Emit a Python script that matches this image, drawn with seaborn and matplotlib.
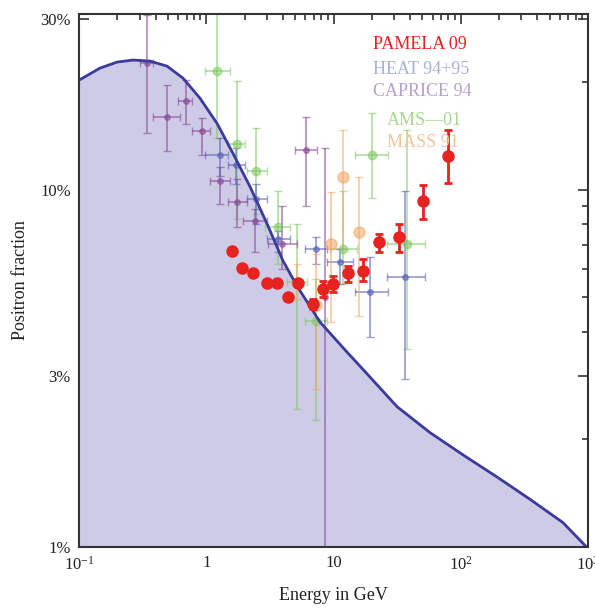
import numpy as np
import matplotlib
matplotlib.use('Agg')
import matplotlib.pyplot as plt
import matplotlib.ticker as mticker
import seaborn as sns

sns.set_style('ticks')
plt.rcParams['font.family'] = ['Liberation Serif', 'DejaVu Serif']
plt.rcParams['mathtext.fontset'] = 'stix'

# Model curve (background prediction)
curve_E = [0.1, 0.146, 0.199, 0.266, 0.361, 0.492, 0.657, 0.893, 1.215, 1.623,
           2.207, 3.0, 4.01, 5.17, 7.83, 12.77, 17.05, 31.55, 57.3, 104.2,
           192.7, 350, 636, 1000]
curve_f = [0.2024, 0.2187, 0.2274, 0.2304, 0.2289, 0.2215, 0.2050, 0.1801,
           0.1532, 0.1262, 0.1019, 0.0803, 0.0632, 0.0537, 0.0426, 0.0351,
           0.0314, 0.0247, 0.0209, 0.0181, 0.0157, 0.0136, 0.0117, 0.0099]

# PAMELA 09
pamela_E = [1.59, 1.91, 2.33, 3.0, 3.6, 4.39, 5.26, 6.9, 8.27, 9.9, 13.0, 17.1,
            22.8, 32.7, 50.5, 79.4]
pamela_f = [0.0674, 0.0604, 0.0585, 0.0548, 0.0548, 0.0500, 0.0548, 0.0478,
            0.0527, 0.0545, 0.0585, 0.0592, 0.0714, 0.0738, 0.0931, 0.1238]
pamela_lo = [0.0664, 0.0595, 0.0576, 0.0540, 0.0539, 0.0491, 0.0537, 0.0462,
             0.0501, 0.0517, 0.0551, 0.0555, 0.0670, 0.0670, 0.0829, 0.1046]
pamela_hi = [0.0684, 0.0613, 0.0594, 0.0556, 0.0557, 0.0509, 0.0559, 0.0494,
             0.0555, 0.0573, 0.0612, 0.0640, 0.0752, 0.0803, 0.1033, 0.1464]

# HEAT 94+95
heat_E = [1.28, 1.71, 2.46, 3.66, 7.28, 11.2, 19.4, 36.5]
heat_Elo = [0.98, 1.48, 2.09, 3.0, 5.97, 8.89, 14.7, 26.3]
heat_Ehi = [1.48, 2.02, 3.0, 4.55, 8.89, 14.2, 26.8, 52.4]
heat_f = [0.1246, 0.1175, 0.0943, 0.0729, 0.0683, 0.0628, 0.0517, 0.0570]
heat_lo = [0.1095, 0.1039, 0.0803, 0.0670, 0.0620, 0.0545, 0.0386, 0.0295]
heat_hi = [0.139, 0.1304, 0.1039, 0.0767, 0.0738, 0.0683, 0.0648, 0.0994]

# CAPRICE 94
cap_E = [0.342, 0.492, 0.693, 0.926, 1.28, 1.74, 2.42, 3.94, 6.06, 8.57]
cap_Elo = [0.301, 0.382, 0.60, 0.77, 1.07, 1.48, 1.94, 3.05, 4.98, 8.57]
cap_Ehi = [0.382, 0.622, 0.77, 1.07, 1.53, 2.09, 3.0, 5.18, 7.4, 8.57]
cap_f = [0.226, 0.160, 0.177, 0.1455, 0.106, 0.0925, 0.0818, 0.0705, 0.1287, 0.050]
cap_lo = [0.1436, 0.128, 0.153, 0.1246, 0.0913, 0.0787, 0.067, 0.060, 0.0902, 0.005]
cap_hi = [0.308, 0.196, 0.202, 0.1583, 0.116, 0.1074, 0.0884, 0.0902, 0.160, 0.1304]

# AMS-01
ams_E = [1.215, 1.74, 2.46, 3.66, 5.18, 7.28, 11.9, 20.1, 37.8]
ams_Elo = [0.977, 1.48, 2.09, 2.89, 4.3, 5.97, 9.38, 14.7, 26.3]
ams_Ehi = [1.54, 2.02, 3.0, 4.55, 6.2, 8.89, 15.3, 26.8, 52.4]
ams_f = [0.2145, 0.1338, 0.113, 0.0787, 0.0551, 0.0429, 0.0683, 0.1246, 0.0705]
ams_lo = [0.139, 0.0829, 0.0856, 0.062, 0.0243, 0.0227, 0.0545, 0.095, 0.0357]
ams_hi = [0.40, 0.201, 0.1483, 0.0994, 0.0803, 0.0563, 0.0994, 0.1635, 0.1465]

# MASS 91
mass_E = [5.18, 7.28, 9.55, 11.9, 15.9]
mass_f = [0.0548, 0.0475, 0.0705, 0.1088, 0.0762]
mass_lo = [0.0494, 0.0276, 0.0426, 0.0683, 0.0443]
mass_hi = [0.062, 0.0661, 0.0987, 0.1464, 0.1088]

LEGEND = ['PAMELA 09', 'HEAT 94+95', 'CAPRICE 94', 'AMS\u201401', 'MASS 91']
LEGEND_COLORS = ['#e8221e', '#a9b0dc', '#b9a0cc', '#a8d890', '#f6c49a']


def yerr(f, lo, hi):
    f, lo, hi = map(np.asarray, (f, lo, hi))
    return [f - lo, hi - f]


fig = plt.figure(figsize=(5.95, 6.14), dpi=100)
ax = fig.add_axes([0.1328, 0.1091, 0.8555, 0.8681])

ax.fill_between(curve_E, curve_f, 0.001, color='#cdcbe6', lw=0, zorder=1)
sns.lineplot(x=curve_E, y=curve_f, ax=ax, color='#3b3b9c', lw=2, zorder=3,
             estimator=None, sort=True)

ax.errorbar(ams_E, ams_f, yerr=yerr(ams_f, ams_lo, ams_hi),
            xerr=yerr(ams_E, ams_Elo, ams_Ehi), fmt='o', ms=6,
            color='#7cc860', alpha=0.55, capsize=3, lw=1.3, zorder=2)
ax.errorbar(cap_E, cap_f, yerr=yerr(cap_f, cap_lo, cap_hi),
            xerr=yerr(cap_E, cap_Elo, cap_Ehi), fmt='o', ms=4,
            color='#8b4a96', alpha=0.6, capsize=3, lw=1.3, zorder=2)
ax.errorbar(heat_E, heat_f, yerr=yerr(heat_f, heat_lo, heat_hi),
            xerr=yerr(heat_E, heat_Elo, heat_Ehi), fmt='o', ms=4,
            color='#5a63b8', alpha=0.6, capsize=3, lw=1.3, zorder=2)
ax.errorbar(mass_E, mass_f, yerr=yerr(mass_f, mass_lo, mass_hi),
            fmt='o', ms=8, color='#f7a35c', alpha=0.55, capsize=3, lw=1.3,
            zorder=2)
ax.errorbar(pamela_E, pamela_f, yerr=yerr(pamela_f, pamela_lo, pamela_hi),
            fmt='o', ms=8, color='#e8221e', capsize=3, lw=2, capthick=2,
            zorder=5)

ax.set_xscale('log')
ax.set_yscale('log')
ax.set_xlim(0.1, 1000)
ax.set_ylim(0.01, 0.31)

ax.xaxis.set_major_locator(mticker.FixedLocator([0.1, 1, 10, 100, 1000]))
ax.set_xticklabels(['$\\mathregular{10^{-1}}$', '1', '10',
                    '$\\mathregular{10^{2}}$', '$\\mathregular{10^{3}}$'])
ax.xaxis.set_minor_locator(mticker.LogLocator(base=10, subs=np.arange(2, 10)))
ax.xaxis.set_minor_formatter(mticker.NullFormatter())
ax.yaxis.set_major_locator(mticker.FixedLocator([0.01, 0.03, 0.1, 0.3]))
ax.set_yticklabels(['1%', '3%', '10%', '30%'])
ax.yaxis.set_minor_locator(mticker.FixedLocator(
    [0.02, 0.04, 0.05, 0.06, 0.07, 0.08, 0.09, 0.2]))
ax.yaxis.set_minor_formatter(mticker.NullFormatter())

ax.tick_params(which='both', direction='in', top=True, right=True,
               color='#333333', labelsize=12, labelcolor='#222222')
ax.tick_params(axis='x', which='major', pad=6)
ax.tick_params(axis='y', which='major', pad=6)
ax.tick_params(which='major', length=7, width=1.2)
ax.tick_params(which='minor', length=4, width=1.2)
for s in ax.spines.values():
    s.set_linewidth(1.5)
    s.set_color('#333333')
    s.set_zorder(6)

ax.set_xlabel('Energy in GeV', fontsize=13, labelpad=10, color='#222222')
ax.set_ylabel('Positron fraction', fontsize=13, labelpad=8, color='#222222')

legend_x = [0.578, 0.578, 0.578, 0.605, 0.605]
legend_y = [0.943, 0.895, 0.854, 0.800, 0.759]
for txt, c, x, y in zip(LEGEND, LEGEND_COLORS, legend_x, legend_y):
    ax.text(x, y, txt, color=c, fontsize=13, transform=ax.transAxes,
            ha='left', va='center', zorder=7)

fig.savefig('out.png', dpi=100)
